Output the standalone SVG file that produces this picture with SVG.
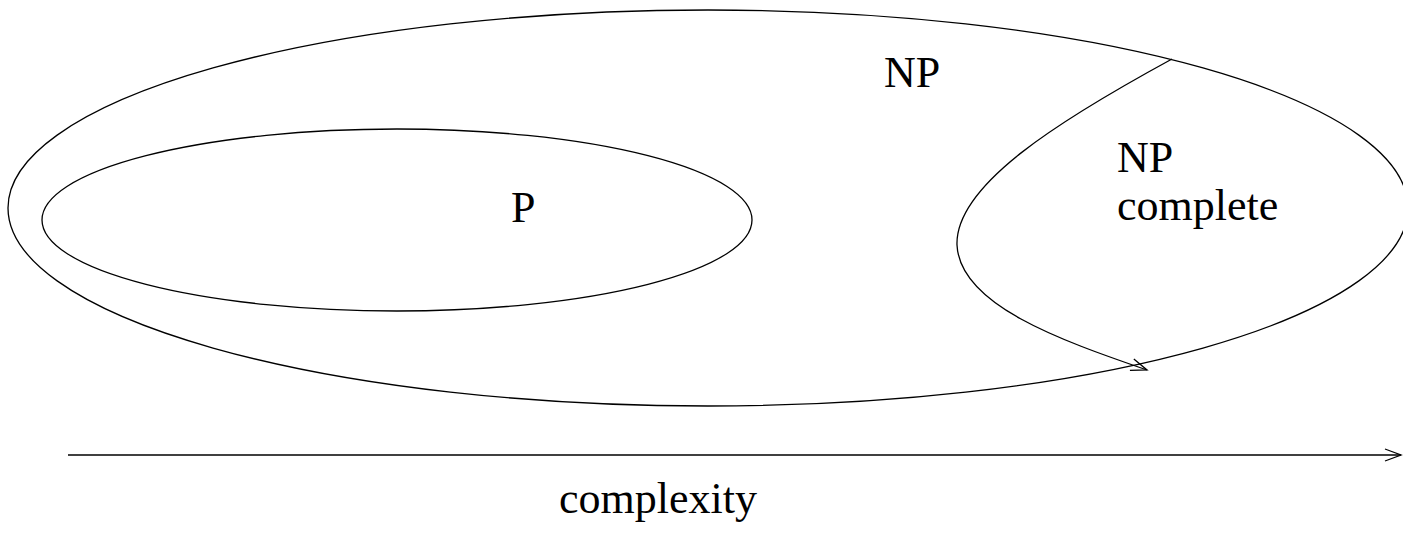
<svg xmlns="http://www.w3.org/2000/svg" width="1403" height="536" viewBox="0 0 1403 536">
<style>
.ln{fill:none;stroke:#000;stroke-width:1.3}
.t{font-family:"Liberation Serif","Times New Roman",serif;font-size:44px;fill:#000}
</style>
<defs>
<marker id="open" markerWidth="20" markerHeight="14" refX="17" refY="7" orient="auto" markerUnits="userSpaceOnUse">
<path d="M1,1 L17,7 L1,13" fill="none" stroke="#000" stroke-width="1.3"/>
</marker>
</defs>
<rect width="1403" height="536" fill="#fff"/>
<g id="NP">
<ellipse class="ln" cx="708" cy="208" rx="700" ry="198"/>
<text class="t" x="884" y="87">NP</text>
</g>
<g id="P">
<ellipse class="ln" cx="397" cy="220" rx="355" ry="91"/>
<text class="t" x="511" y="222">P</text>
</g>
<g id="NPcomplete">
<text class="t" x="1117" y="172">NP</text>
<text class="t" x="1117" y="220">complete</text>
</g>
<g id="connectors">
<path class="ln" d="M1172,59 C1060,120 955,185 957,245 C960,305 1060,340 1147,370" marker-end="url(#open)"/>
<line class="ln" x1="68" y1="455" x2="1401" y2="455" marker-end="url(#open)"/>
</g>
<text class="t" x="559" y="513">complexity</text>
</svg>
